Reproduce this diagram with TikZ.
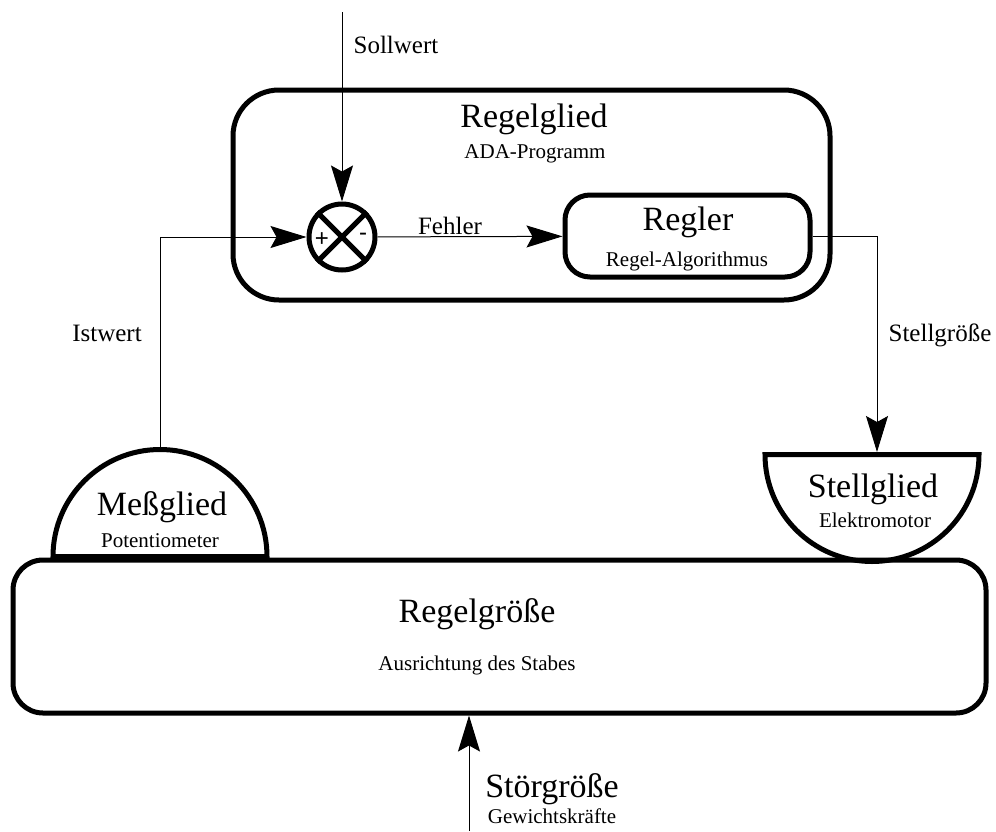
\documentclass[tikz,border=0pt]{standalone}
\usepackage{fontspec}
\setmainfont{Liberation Serif}
\newfontfamily\pmfont{Liberation Sans}
\usetikzlibrary{arrows.meta,shapes.geometric}

\tikzset{
  block/.style={draw, line width=2.5pt, inner sep=0pt},
  half/.style={draw, line width=2.5pt, semicircle, inner sep=0pt,
    minimum width=107pt, minimum height=53.5pt, anchor=chord center},
  sig/.style={line width=0.5pt, -{Stealth[length=18pt,width=11pt,inset=3pt]}},
  big/.style={font=\fontsize{17}{20}\selectfont, anchor=base},
  sub/.style={font=\fontsize{10.5}{12}\selectfont, anchor=base},
  lbl/.style={font=\fontsize{12.5}{15}\selectfont, anchor=base}
}

\begin{document}
\begin{tikzpicture}[x=0.5pt,y=-0.5pt]
      \useasboundingbox (0,0) rectangle (996,831);
      % blocks
      \node (glied) at (531.5,195) [block, rounded corners=23pt, minimum width=298.5pt, minimum height=105pt] {};
      \node (regler) at (687.5,236) [block, rounded corners=12.5pt, minimum width=122.5pt, minimum height=41pt] {};
      \node (groesse) at (499.5,636.5) [block, rounded corners=15pt, minimum width=486.5pt, minimum height=76.5pt] {};
      \node (mess) at (160,559) [half] {};
      \node (stell) at (872,452) [half, shape border rotate=180] {};
      \node (sum) at (342,237) [draw, circle, line width=2.5pt, inner sep=0pt, minimum size=33pt] {};
      \draw[line width=2.5pt] (sum.45) -- (sum.225) (sum.135) -- (sum.315);
      \node (plus) at (322,240) [font=\pmfont\fontsize{12}{14}\selectfont] {+};
      \node (minus) at (363,237) [font=\pmfont\fontsize{12}{14}\selectfont] {-};
      % free ends
      \coordinate (soll) at (342,12);
      \coordinate (stelltop) at (877,452);
      \coordinate (stoer) at (469,831);
      % signals
      \draw[sig] (soll) -- (sum);
      \draw[sig] (mess.apex) |- (sum);
      \draw[sig] (sum) -- (regler);
      \draw[sig] (regler) -| (stelltop);
      \draw[sig] (stoer) -- (stoer |- groesse.south);
      % texts
      \node (tGlied) at (534,127) [big] {Regelglied};
      \node (tAda) at (535,158) [sub] {ADA-Programm};
      \node (tRegler) at (688,230) [big] {Regler};
      \node (tAlgo) at (687,266) [sub] {Regel-Algorithmus};
      \node (tMess) at (162,515) [big] {Meßglied};
      \node (tPoti) at (160,547) [sub] {Potentiometer};
      \node (tStell) at (873,497) [big] {Stellglied};
      \node (tMotor) at (875,527) [sub] {Elektromotor};
      \node (tGroesse) at (477,622) [big] {Regelgröße};
      \node (tStab) at (477,670) [sub] {Ausrichtung des Stabes};
      \node (tStoer) at (552,797) [big] {Störgröße};
      \node (tKraft) at (552,823) [sub] {Gewichtskräfte};
      \node (lSoll) at (396,53) [lbl] {Sollwert};
      \node (lFehler) at (450,234) [lbl] {Fehler};
      \node (lIst) at (107,341) [lbl] {Istwert};
      \node (lStell) at (940,341) [lbl] {Stellgröße};
\end{tikzpicture}
\end{document}
